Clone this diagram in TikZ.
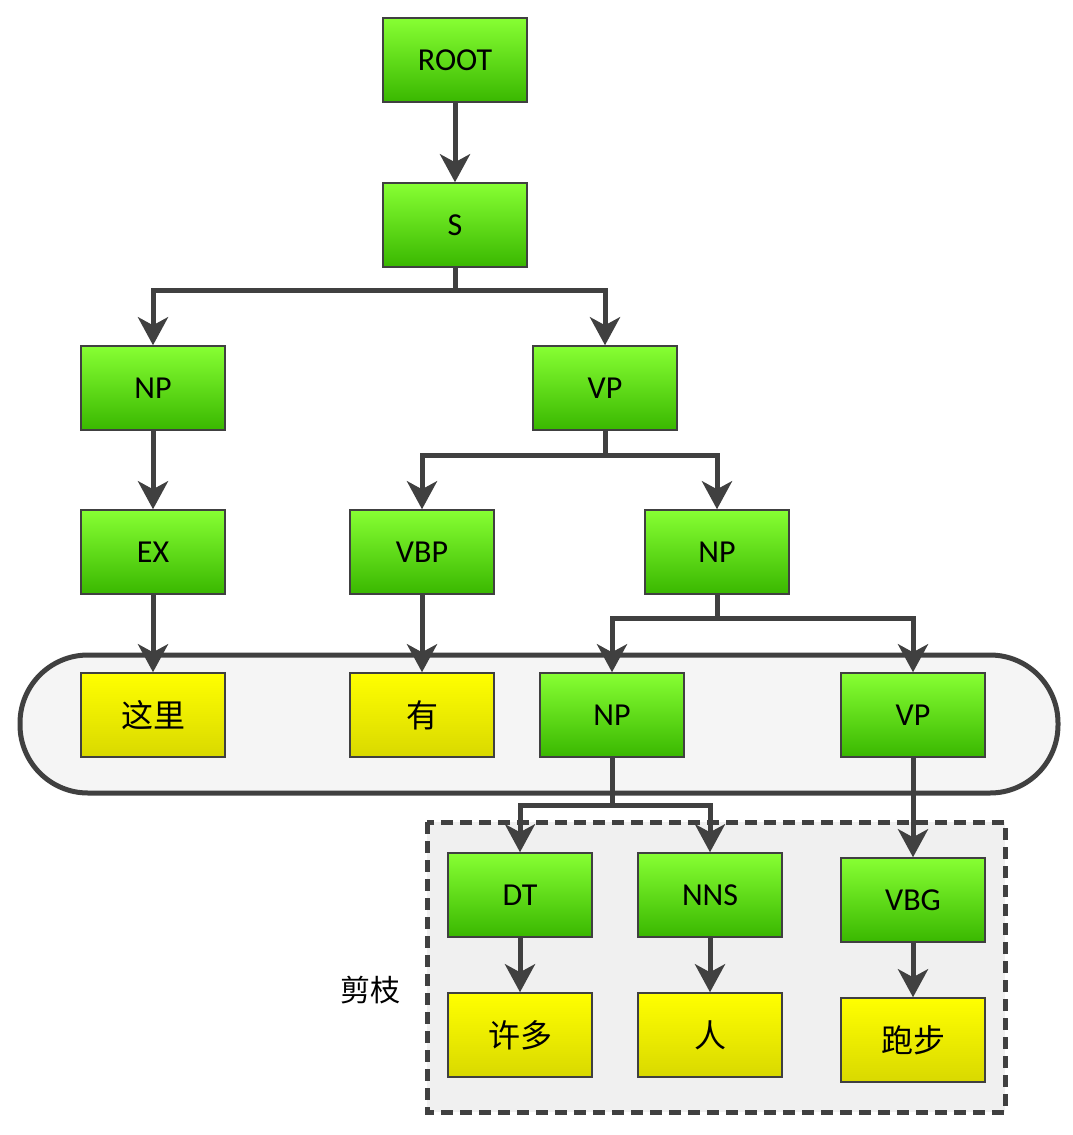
\documentclass[tikz,border=0pt]{standalone}
\usepackage{fontspec}
\setmainfont{Carlito}
\newfontfamily\cjk{Noto Sans CJK SC}
\usetikzlibrary{arrows.meta}
\definecolor{edge}{HTML}{404040}
\tikzset{
  box/.style={draw=edge, line width=1.5pt, minimum width=144pt, minimum height=84pt,
    inner sep=0pt, font=\fontsize{32}{36}\selectfont},
  tag/.style={box, top color=green!45!lime!80!white, bottom color=green!60!black!70!lime},
  word/.style={box, top color=yellow, bottom color=yellow!85!black, font=\cjk\fontsize{32}{36}\selectfont},
  link/.style={draw=edge, line width=5pt,
    -{Stealth[width=30pt,length=28pt,inset=8pt]}},
}
\begin{document}
\begin{tikzpicture}[x=1pt,y=-1pt]
\useasboundingbox (0,0) rectangle (1073,1135);
% frames
\draw[edge, line width=5pt, fill=black!4, rounded corners=68pt] (20,655) rectangle (1058,793);
\draw[edge, line width=5pt, dashed, dash pattern=on 12pt off 7pt, fill=black!6] (427,822) rectangle (1005,1112);
\node[font=\cjk\fontsize{30}{34}\selectfont] (cut) at (370,990) {剪枝};
% nodes
\node[tag] (root) at (455,60) {ROOT};
\node[tag] (s) at (455,225) {S};
\node[tag] (np1) at (153,388) {NP};
\node[tag] (vp1) at (605,388) {VP};
\node[tag] (ex) at (153,552) {EX};
\node[tag] (vbp) at (422,552) {VBP};
\node[tag] (np2) at (717,552) {NP};
\node[word] (w1) at (153,715) {这里};
\node[word] (w2) at (422,715) {有};
\node[tag] (np3) at (612,715) {NP};
\node[tag] (vp3) at (913,715) {VP};
\node[tag] (dt) at (520,895) {DT};
\node[tag] (nns) at (710,895) {NNS};
\node[tag] (vbg) at (913,900) {VBG};
\node[word] (w3) at (520,1035) {许多};
\node[word] (w4) at (710,1035) {人};
\node[word] (w5) at (913,1040) {跑步};
% connectors
\draw[link] (root) -- (s);
\draw[link] (s.south) -- ++(0,23) -| (np1.north);
\draw[link] (s.south) -- ++(0,23) -| (vp1.north);
\draw[link] (np1) -- (ex);
\draw[link] (vp1.south) -- ++(0,25) -| (vbp.north);
\draw[link] (vp1.south) -- ++(0,25) -| (np2.north);
\draw[link] (ex) -- (w1);
\draw[link] (vbp) -- (w2);
\draw[link] (np2.south) -- ++(0,24) -| (np3.north);
\draw[link] (np2.south) -- ++(0,24) -| (vp3.north);
\draw[link] (np3.south) -- ++(0,48) -| (dt.north);
\draw[link] (np3.south) -- ++(0,48) -| (nns.north);
\draw[link] (vp3) -- (vbg);
\draw[link] (dt) -- (w3);
\draw[link] (nns) -- (w4);
\draw[link] (vbg) -- (w5);
\end{tikzpicture}
\end{document}
